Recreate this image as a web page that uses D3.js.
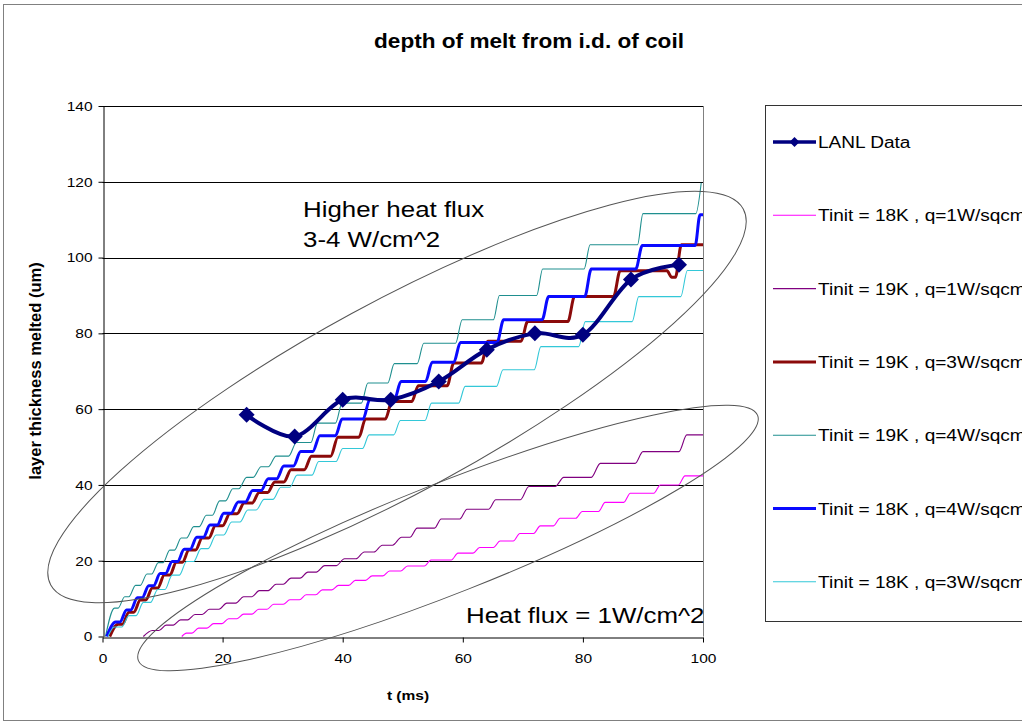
<!DOCTYPE html>
<html><head><meta charset="utf-8">
<script src="https://cdn.jsdelivr.net/npm/d3@7"></script>
<style>
body{margin:0;background:#fff;}
text{font-family:"Liberation Sans",Arial,sans-serif;fill:#000;}
</style>
</head><body>
<svg id="c" width="1022" height="725"></svg>
<script>
// ---------- data ----------
const xTicks = [0, 20, 40, 60, 80, 100];
const yTicks = [0, 20, 40, 60, 80, 100, 120, 140];

const lanlT = [24, 32, 40, 48, 56, 64, 72, 80, 88, 96];
const lanlV = [58.5, 52.8, 62.5, 62.5, 67.3, 75.7, 80.0, 79.6, 94.2, 98.1];

// Tinit = 18K , q=1W/sqcm  [t (ms), depth (um)]
const s18k_q1 = [[13.2,0],[14.0,0.9],[14.9,0.9],[16.0,2.2],[17.4,2.2],[18.5,3.4],[19.9,3.4],[21.0,4.7],[22.4,4.7],[23.5,5.9],[24.9,5.9],[26.0,7.2],[27.4,7.2],[28.5,8.5],[30.1,8.5],[31.2,9.7],[32.8,9.7],[33.9,11.0],[35.5,11.0],[36.6,12.3],[38.2,12.3],[39.3,13.5],[41.0,13.5],[42.1,14.8],[43.8,14.8],[44.9,16.0],[46.7,16.0],[47.8,17.3],[49.7,17.3],[50.8,18.6],[53.6,18.6],[54.7,20.2],[58.1,20.2],[59.2,22.0],[61.7,22.0],[62.8,23.5],[65.1,23.5],[66.2,25.2],[68.4,25.2],[69.5,27.2],[71.8,27.2],[72.9,29.2],[75.1,29.2],[76.2,31.2],[78.8,31.2],[79.9,33.0],[82.6,33.0],[83.7,35.4],[86.8,35.4],[87.9,37.8],[91.8,37.8],[92.9,40.0],[95.9,40.0],[97.0,42.4],[100,42.4]];

// Tinit = 19K , q=1W/sqcm
const s19k_q1 = [[6.8,0],[8.3,1.6],[9.4,1.6],[10.6,3.0],[11.8,3.0],[13.0,4.4],[14.2,4.4],[15.4,5.8],[16.6,5.8],[17.8,7.2],[19.4,7.2],[20.7,8.8],[22.2,8.8],[23.5,10.5],[24.9,10.5],[26.1,12.1],[27.6,12.1],[28.9,13.8],[30.1,13.8],[31.4,15.4],[32.9,15.4],[34.2,17.0],[35.6,17.0],[37.0,18.7],[38.9,18.7],[40.3,20.5],[42.2,20.5],[43.6,22.3],[45.2,22.3],[46.6,24.1],[48.3,24.1],[49.8,26.2],[51.2,26.2],[52.4,28.6],[55.3,28.6],[56.4,31.0],[59.5,31.0],[60.7,33.6],[64.3,33.6],[65.5,36.1],[69.6,36.1],[71.0,39.6],[75.4,39.6],[76.8,42.0],[81.4,42.0],[82.9,45.7],[88.7,45.7],[90.0,48.8],[96.0,48.8],[97.3,53.2],[100,53.2]];

// Tinit = 19K , q=3W/sqcm
const s19k_q3 = [[1.2,0],[2.6,3.2],[3.3,3.2],[4.4,6.4],[5.2,6.4],[6.3,9.6],[7.2,9.6],[8.3,12.8],[9.2,12.8],[10.3,16.2],[11.2,16.2],[12.3,19.6],[13.3,19.6],[14.4,22.8],[15.5,22.8],[16.6,26.0],[17.7,26.0],[18.8,29.2],[20.0,29.2],[21.2,32.4],[22.4,32.4],[23.6,35.2],[24.9,35.2],[26.1,38.0],[27.5,38.0],[28.7,40.8],[30.2,40.8],[31.4,44.0],[33.6,44.0],[34.8,47.6],[38.0,47.6],[39.2,52.6],[42.7,52.6],[43.8,57.4],[47.1,57.4],[48.2,62.0],[51.5,62.0],[52.6,66.2],[57.4,66.2],[58.5,72.2],[63.1,72.2],[64.2,77.9],[69.7,77.9],[70.8,83.1],[77.5,83.1],[78.6,89.7],[85.1,89.7],[86.2,96.5],[94.0,96.5],[94.8,94.8],[95.4,94.8],[96.4,103.4],[100,103.4]];

// Tinit = 19K , q=4W/sqcm
const s19k_q4 = [[0.5,0],[2.0,7.5],[2.6,7.5],[3.7,10.5],[4.4,10.5],[5.5,13.5],[6.3,13.5],[7.4,16.5],[8.2,16.5],[9.3,19.5],[10.1,19.5],[11.2,22.8],[12.0,22.8],[13.1,26.0],[14.0,26.0],[15.2,29.0],[16.1,29.0],[17.3,32.0],[18.3,32.0],[19.5,35.8],[20.5,35.8],[21.7,39.0],[22.7,39.0],[24.0,42.0],[25.1,42.0],[26.4,44.8],[27.6,44.8],[28.9,47.6],[31.0,47.6],[32.3,51.2],[34.7,51.2],[35.8,56.3],[38.8,56.3],[39.9,61.6],[43.1,61.6],[44.2,66.9],[47.5,66.9],[48.6,72.0],[52.4,72.0],[53.5,77.4],[58.8,77.4],[59.9,83.6],[65.1,83.6],[66.1,90.0],[72.3,90.0],[73.3,97.0],[80.2,97.0],[81.2,103.4],[89.1,103.4],[90.0,111.6],[98.8,111.6],[99.7,119.7]];

// Tinit = 18K , q=4W/sqcm
const s18k_q4 = [[0.7,0],[2.2,3.8],[2.9,3.8],[4.0,7.0],[4.7,7.0],[5.8,10.2],[6.6,10.2],[7.7,13.4],[8.5,13.4],[9.6,16.6],[10.5,16.6],[11.6,19.8],[12.5,19.8],[13.6,23.0],[14.6,23.0],[15.7,26.2],[16.8,26.2],[17.9,29.4],[19.1,29.4],[20.2,32.5],[21.4,32.5],[22.6,35.5],[23.8,35.5],[25.0,38.5],[26.4,38.5],[27.6,41.6],[29.0,41.6],[30.2,45.0],[31.8,45.0],[33.0,48.8],[35.0,48.8],[36.2,53.0],[38.8,53.0],[39.9,57.4],[43.4,57.4],[44.5,62.5],[48.6,62.5],[49.7,67.3],[53.8,67.3],[54.9,72.4],[58.5,72.4],[59.6,77.6],[65.7,77.6],[66.8,83.6],[73.2,83.6],[74.3,89.7],[80.3,89.7],[81.4,97.0],[88.8,97.0],[89.9,103.2],[98.7,103.2],[99.5,111.3],[100,111.3]];

// Tinit = 18K , q=3W/sqcm
const s18k_q3 = [[0.9,0],[2.0,2.5],[3.2,2.5],[4.4,5.5],[5.6,5.5],[6.8,9.0],[8.0,9.0],[9.2,12.4],[10.4,12.4],[11.6,16.2],[12.8,16.2],[14.0,19.8],[15.2,19.8],[16.4,23.2],[17.6,23.2],[18.9,26.8],[20.2,26.8],[21.5,30.2],[22.9,30.2],[24.2,33.4],[25.6,33.4],[26.9,36.2],[28.4,36.2],[29.7,39.4],[31.2,39.4],[32.4,42.6],[34.9,42.6],[36.0,46.2],[38.9,46.2],[40.0,49.6],[43.3,49.6],[44.4,53.2],[48.5,53.2],[49.6,57.0],[53.7,57.0],[54.8,61.6],[59.3,61.6],[60.4,66.0],[65.6,66.0],[66.7,70.4],[71.9,70.4],[73.0,76.5],[79.3,76.5],[80.4,83.1],[88.2,83.1],[89.3,89.7],[96.3,89.7],[97.4,96.6],[100,96.6]];

const legendNames = ["LANL Data","Tinit = 18K , q=1W/sqcm","Tinit = 19K , q=1W/sqcm","Tinit = 19K , q=3W/sqcm","Tinit = 19K , q=4W/sqcm","Tinit = 18K , q=4W/sqcm","Tinit = 18K , q=3W/sqcm"];

// ---------- chart ----------
const svg = d3.select("#c");
const SX = 1.15; // horizontal text stretch seen in the reference
const x = d3.scaleLinear().domain([0,100]).range([102.5,703]);
const y = d3.scaleLinear().domain([0,140]).range([636.5,106]);

svg.append("rect").attr("x",3.5).attr("y",4.5).attr("width",1040).attr("height",716)
  .attr("fill","#fff").attr("stroke","#808080").attr("stroke-width",1);

function stext(g, txt, px, py, size, anchor, weight, sx){
  return g.append("text").attr("transform",`translate(${px},${py}) scale(${sx||SX},1)`)
    .attr("text-anchor",anchor||"start").attr("font-size",size)
    .attr("font-weight",weight||"normal").text(txt);
}

// title
stext(svg,"depth of melt from i.d. of coil",529,48,20,"middle","bold",1.13);

// gridlines
svg.append("g").selectAll("line").data(yTicks.filter(d=>d>0)).join("line")
  .attr("x1",x(0)).attr("x2",x(100)).attr("y1",d=>Math.round(y(d))+0.5).attr("y2",d=>Math.round(y(d))+0.5)
  .attr("stroke","#000").attr("stroke-width",1);
// plot right border
svg.append("line").attr("x1",703.5).attr("x2",703.5).attr("y1",y(140)).attr("y2",y(0))
  .attr("stroke","#808080");

// axes
const gx = svg.append("g").attr("transform",`translate(0,${Math.round(y(0))+0.5})`)
  .call(d3.axisBottom(x).tickValues(xTicks).tickSize(5).tickSizeOuter(0).tickFormat(d3.format("d")));
const gy = svg.append("g").attr("transform",`translate(${Math.round(x(0))+0.5},0)`)
  .call(d3.axisLeft(y).tickValues(yTicks).tickSize(5).tickSizeOuter(0).tickFormat(d3.format("d")));
[gx,gy].forEach(g=>{
  g.select(".domain").attr("stroke","#000");
  g.selectAll(".tick line").attr("stroke","#000");
  g.selectAll(".tick text").attr("font-size",13.5).attr("fill","#222")
   .style("font-family",'"Liberation Sans",Arial,sans-serif');
});
gx.selectAll(".tick text").attr("y",21).attr("dy","0.32em").attr("transform",`scale(${SX},1)`);
gy.selectAll(".tick text").attr("x",-11/SX).attr("transform",`scale(${SX},1)`);

// axis titles
stext(svg,"t (ms)",408,700,13.5,"middle","bold");
svg.append("text").attr("transform","translate(41,371) rotate(-90)")
  .attr("text-anchor","middle").attr("font-size",16.5).attr("font-weight","bold")
  .text("layer thickness melted (um)");

// series
const series = [
  {name:legendNames[1], data:s18k_q1, color:"#ff00ff", w:1.1},
  {name:legendNames[2], data:s19k_q1, color:"#800080", w:1.1},
  {name:legendNames[3], data:s19k_q3, color:"#8b0a0a", w:3},
  {name:legendNames[4], data:s19k_q4, color:"#1f8f8f", w:1.1},
  {name:legendNames[5], data:s18k_q4, color:"#0a0aff", w:3},
  {name:legendNames[6], data:s18k_q3, color:"#33c8d8", w:1.1}
];
const line = d3.line().x(d=>x(d[0])).y(d=>y(d[1])).curve(d3.curveMonotoneX);
const gS = svg.append("g");
series.forEach(s=>{
  gS.append("path").attr("d",line(s.data)).attr("fill","none")
    .attr("stroke",s.color).attr("stroke-width",s.w).attr("stroke-linejoin","round");
});

// LANL data
const lanl = lanlT.map((t,i)=>[t,lanlV[i]]);
const lanlLine = d3.line().x(d=>x(d[0])).y(d=>y(d[1])).curve(d3.curveCardinal.tension(0));
svg.append("path").attr("d",lanlLine(lanl)).attr("fill","none").attr("stroke","#000080").attr("stroke-width",4);
const diamond = r => `M0,${-r}L${r},0L0,${r}L${-r},0Z`;
svg.append("g").selectAll("path").data(lanl).join("path")
  .attr("transform",d=>`translate(${x(d[0])},${y(d[1])})`).attr("d",diamond(8))
  .attr("fill","#000080");

// ellipses (annotations)
svg.append("ellipse").attr("transform","translate(397,397) rotate(-28.5)")
  .attr("rx",394).attr("ry",95).attr("fill","none").attr("stroke","#555").attr("stroke-width",1);
svg.append("ellipse").attr("transform","translate(448,538) rotate(-21.6)")
  .attr("rx",333).attr("ry",55).attr("fill","none").attr("stroke","#555").attr("stroke-width",1);

// annotation texts
stext(svg,"Higher heat flux",303,217,22.5,"start");
stext(svg,"3-4 W/cm^2",303,247,22.5,"start");
stext(svg,"Heat flux = 1W/cm^2",466,623,22.5,"start");

// legend
const lg = svg.append("g");
lg.append("rect").attr("x",765.5).attr("y",105.5).attr("width",300).attr("height",516)
  .attr("fill","#fff").attr("stroke","#333");
const legItems = [{color:"#000080", w:3.5, marker:true}].concat(series.map(s=>({color:s.color,w:s.w})));
legItems.forEach((it,i)=>{
  const ly = 142 + i*73.3;
  lg.append("line").attr("x1",773).attr("x2",816).attr("y1",ly).attr("y2",ly)
    .attr("stroke",it.color).attr("stroke-width",it.w);
  if(it.marker) lg.append("path").attr("transform",`translate(794.5,${ly})`).attr("d",diamond(5)).attr("fill","#000080");
  stext(lg,legendNames[i],818,ly+6,16,"start","normal",1.19);
});
</script>
</body></html>
